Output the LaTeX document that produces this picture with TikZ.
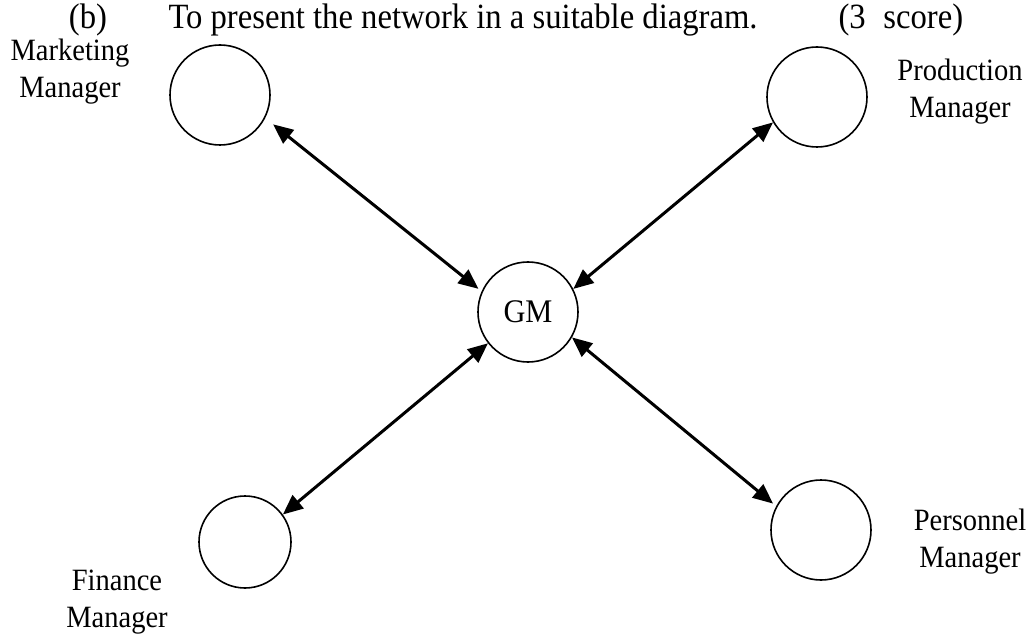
\documentclass[tikz,border=0pt]{standalone}
\usepackage{fontspec}
\setmainfont[FakeStretch=0.92]{Liberation Serif}
\usetikzlibrary{arrows.meta}

\begin{document}
\begin{tikzpicture}[x=1pt, y=-1pt, line width=3pt,
    main node/.style={circle,draw,line width=1.6pt,minimum size=100pt,inner sep=0pt},
    lbl/.style={align=center,inner sep=0pt,font=\fontsize{31}{37}\selectfont},
    hdr/.style={inner sep=0pt,anchor=base,font=\fontsize{35.5}{40}\selectfont},
    >={Triangle[length=20pt,width=17pt]}]

    \useasboundingbox (0,0) rectangle (1034,639);

    \node[hdr] at (88, 29) (b) {(b)};
    \node[hdr, anchor=base west] at (167, 29) (title) {To present the network in a suitable diagram.};
    \node[hdr, anchor=base west] at (837, 29) (score) {(3\hspace{0.5em}score)};

    \node[main node, font=\fontsize{33}{36}\selectfont] at (528, 312) (gm) {GM};
    \node[main node] at (220, 95) (mkt) {};
    \node[main node] at (817, 97) (prod) {};
    \node[main node, minimum size=92pt] at (245, 542) (fin) {};
    \node[main node] at (821, 530) (pers) {};

    \node[lbl] at (70, 72) (mktlbl) {Marketing\\Manager};
    \node[lbl] at (960, 92) (prodlbl) {Production\\Manager};
    \node[lbl] at (970, 542) (perslbl) {Personnel\\Manager};
    \node[lbl] at (117, 602) (finlbl) {Finance\\Manager};

    \path[<->] (mkt.-27) edge[shorten <=10pt, shorten >=4pt] (gm.156);
    \path[<->] (prod.210) edge (gm.27);
    \path[<->] (fin.36) edge (gm.218);
    \path[<->] (pers.152) edge[shorten <=4pt] (gm.-30);
\end{tikzpicture}
\end{document}
